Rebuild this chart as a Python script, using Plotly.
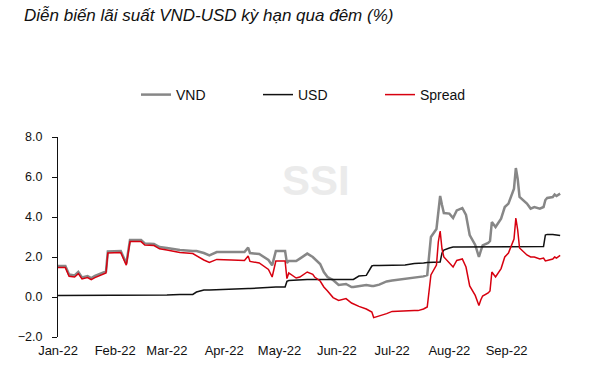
import plotly.graph_objects as go

dates = [
    "2022-01-01", "2022-01-05", "2022-01-07", "2022-01-10", "2022-01-12", "2022-01-14",
    "2022-01-17", "2022-01-19", "2022-01-21", "2022-01-25", "2022-01-27", "2022-01-28",
    "2022-02-04", "2022-02-07", "2022-02-09", "2022-02-15", "2022-02-17", "2022-02-22",
    "2022-02-25", "2022-03-01", "2022-03-08", "2022-03-15", "2022-03-17", "2022-03-21",
    "2022-03-24", "2022-03-28", "2022-04-05", "2022-04-12", "2022-04-14", "2022-04-15",
    "2022-04-20", "2022-04-25", "2022-04-27", "2022-04-29", "2022-05-04", "2022-05-05",
    "2022-05-06", "2022-05-10", "2022-05-12", "2022-05-16", "2022-05-19", "2022-05-20",
    "2022-05-23", "2022-05-25", "2022-05-27", "2022-05-30", "2022-06-02", "2022-06-06",
    "2022-06-09", "2022-06-10", "2022-06-13", "2022-06-17", "2022-06-20", "2022-06-21",
    "2022-06-24", "2022-06-28", "2022-07-01", "2022-07-05", "2022-07-08", "2022-07-13",
    "2022-07-15", "2022-07-18", "2022-07-20", "2022-07-21", "2022-07-22", "2022-07-25",
    "2022-07-26", "2022-07-27", "2022-07-28", "2022-07-29", "2022-08-01", "2022-08-03",
    "2022-08-05", "2022-08-08", "2022-08-10", "2022-08-12", "2022-08-15", "2022-08-17",
    "2022-08-18", "2022-08-19", "2022-08-22", "2022-08-23", "2022-08-24", "2022-08-25",
    "2022-08-26", "2022-08-29", "2022-08-31", "2022-09-02", "2022-09-05", "2022-09-06",
    "2022-09-07", "2022-09-08", "2022-09-12", "2022-09-14", "2022-09-16", "2022-09-19",
    "2022-09-21", "2022-09-22", "2022-09-23", "2022-09-26", "2022-09-27", "2022-09-28",
    "2022-09-30",
]

vnd = [
    1.55, 1.55, 1.12, 1.08, 1.25, 0.98,
    1.05, 0.95, 1.05, 1.20, 1.28, 2.28,
    2.30, 1.67, 2.85, 2.85, 2.68, 2.65,
    2.50, 2.45, 2.35, 2.30, 2.30, 2.20,
    2.08, 2.25, 2.25, 2.25, 2.47, 2.20,
    2.15, 1.85, 1.58, 2.30, 2.30, 1.70,
    1.80, 1.80, 1.92, 2.17, 2.00, 1.90,
    1.65, 1.25, 1.00, 0.85, 0.60, 0.65,
    0.50, 0.50, 0.55, 0.60, 0.55, 0.55,
    0.62, 0.78, 0.82, 0.87, 0.92, 1.00,
    1.00, 1.03, 1.10, 2.20, 3.00, 3.40,
    4.30, 5.05, 4.60, 4.20, 4.17, 3.95,
    4.33, 4.45, 4.10, 3.10, 2.60, 2.00,
    2.30, 2.58, 2.70, 2.80, 3.75, 3.60,
    3.50, 3.92, 4.50, 4.67, 5.42, 6.45,
    5.90, 5.00, 4.67, 4.42, 4.50, 4.42,
    4.50, 4.85, 4.95, 5.00, 5.12, 5.05,
    5.17,
]

usd = [
    0.08, 0.08, 0.08, 0.08, 0.08, 0.08,
    0.08, 0.08, 0.08, 0.08, 0.08, 0.08,
    0.08, 0.08, 0.08, 0.08, 0.08, 0.08,
    0.09, 0.10, 0.12, 0.13, 0.25, 0.35,
    0.35, 0.37, 0.40, 0.42, 0.42, 0.42,
    0.45, 0.47, 0.50, 0.50, 0.50, 0.78,
    0.82, 0.85, 0.88, 0.88, 0.88, 0.88,
    0.88, 0.88, 0.88, 0.88, 0.88, 0.88,
    0.88, 0.88, 1.05, 1.08, 1.55, 1.58,
    1.58, 1.58, 1.58, 1.58, 1.60, 1.67,
    1.67, 1.70, 1.72, 1.72, 1.72, 1.72,
    1.72, 1.75, 2.20, 2.35, 2.45, 2.50,
    2.50, 2.50, 2.52, 2.52, 2.52, 2.52,
    2.52, 2.52, 2.52, 2.52, 2.52, 2.52,
    2.52, 2.52, 2.52, 2.52, 2.52, 2.53,
    2.53, 2.53, 2.53, 2.53, 2.53, 2.53,
    2.53, 3.10, 3.13, 3.13, 3.12, 3.10,
    3.08,
]

spread = [
    1.47, 1.47, 1.04, 1.00, 1.17, 0.90,
    0.97, 0.87, 0.97, 1.12, 1.20, 2.20,
    2.22, 1.59, 2.77, 2.77, 2.60, 2.57,
    2.41, 2.35, 2.23, 2.17, 2.05, 1.85,
    1.73, 1.88, 1.85, 1.83, 2.05, 1.78,
    1.70, 1.38, 1.00, 1.80, 1.80, 0.92,
    1.20, 0.95, 1.00, 1.25, 1.13, 1.00,
    0.80, 0.50, 0.30, -0.03, -0.17, -0.08,
    -0.30, -0.35, -0.47, -0.60, -0.75, -1.03,
    -0.95, -0.83, -0.72, -0.70, -0.67, -0.68,
    -0.68, -0.60, -0.50, 0.50, 1.10, 1.60,
    2.75, 3.30, 2.40, 2.00, 1.72, 1.50,
    1.83, 1.90, 1.50, 0.55, 0.08, -0.42,
    -0.15, 0.05, 0.20, 0.30, 1.25, 1.10,
    1.00, 1.42, 2.00, 2.20, 2.90, 3.95,
    3.35, 2.45, 2.10, 2.00, 2.00, 1.90,
    1.95, 1.80, 1.82, 1.90, 2.00, 1.95,
    2.08,
]

month_ticks = ["2022-01-01", "2022-02-01", "2022-03-01", "2022-04-01", "2022-05-01",
               "2022-06-01", "2022-07-01", "2022-08-01", "2022-09-01", "2022-10-01"]
month_labels = ["Jan-22", "Feb-22", "Mar-22", "Apr-22", "May-22",
                "Jun-22", "Jul-22", "Aug-22", "Sep-22"]
y_ticks = [-2, 0, 2, 4, 6, 8]

title_text = "Diễn biến lãi suất VND-USD kỳ hạn qua đêm (%)"
series_names = ["VND", "USD", "Spread"]
watermark = "SSI"

FONT = "Liberation Sans, Arial, sans-serif"
W, H = 612, 379

fig = go.Figure()
fig.add_trace(go.Scatter(x=dates, y=vnd, name=series_names[0], mode="lines",
                         line=dict(color="#878787", width=2.5)))
fig.add_trace(go.Scatter(x=dates, y=usd, name=series_names[1], mode="lines",
                         line=dict(color="#111111", width=1.5)))
fig.add_trace(go.Scatter(x=dates, y=spread, name=series_names[2], mode="lines",
                         line=dict(color="#d7000f", width=1.5)))

x_range = [month_ticks[0], month_ticks[-1]]
y_range = [y_ticks[0], y_ticks[-1]]
zero_pos = (0 - y_range[0]) / (y_range[1] - y_range[0])

fig.update_layout(
    width=W, height=H,
    margin=dict(l=58, r=50, t=137, b=42, autoexpand=False),
    paper_bgcolor="white", plot_bgcolor="white",
    font=dict(family=FONT, size=13, color="#111111"),
    title=dict(text=title_text, x=24 / W, xanchor="left", xref="container",
               y=1 - 15 / H, yanchor="middle", yref="container",
               font=dict(family=FONT, size=17, style="italic", color="#111111")),
    showlegend=True,
    legend=dict(orientation="h", x=(136 - 58) / 504, xanchor="left",
                y=1 + (137 - 95) / 200, yanchor="middle",
                font=dict(family=FONT, size=14), bgcolor="rgba(0,0,0,0)",
                entrywidth=77, entrywidthmode="pixels"),
    xaxis=dict(type="date", range=x_range, tickvals=month_ticks[:-1], ticktext=month_labels,
               showline=False, showgrid=False, zeroline=False, ticks="",
               tickfont=dict(family=FONT, size=13), ticklabelstandoff=4),
    xaxis2=dict(type="date", range=x_range, overlaying="x", anchor="free", position=zero_pos,
                tickvals=month_ticks, showticklabels=False, ticks="inside", ticklen=5,
                tickcolor="#111111", showline=True, linecolor="#111111", linewidth=1,
                showgrid=False, zeroline=False),
    yaxis=dict(range=y_range, tickvals=y_ticks, tickformat=".1f", showline=True,
               linecolor="#111111", linewidth=1, ticks="outside", ticklen=5,
               tickcolor="#111111", showgrid=False, zeroline=False,
               tickfont=dict(family=FONT, size=12.5), ticklabelstandoff=7),
    yaxis2=dict(range=y_range, overlaying="y", anchor="x", side="left", tickvals=y_ticks,
                showticklabels=False, ticks="inside", ticklen=5, tickcolor="#111111",
                showline=False, showgrid=False, zeroline=False),
)

fig.add_annotation(text="<b>" + watermark + "</b>", x=(316 - 58) / 504, y=(337 - 180) / 200,
                   xref="paper", yref="paper", xanchor="center", yanchor="middle",
                   showarrow=False, font=dict(family=FONT, size=42, color="#ebebeb"))

fig.write_html("out.html",
               config={"displayModeBar": False},
               post_script="document.body.style.margin='0';document.body.style.overflow='hidden';")
